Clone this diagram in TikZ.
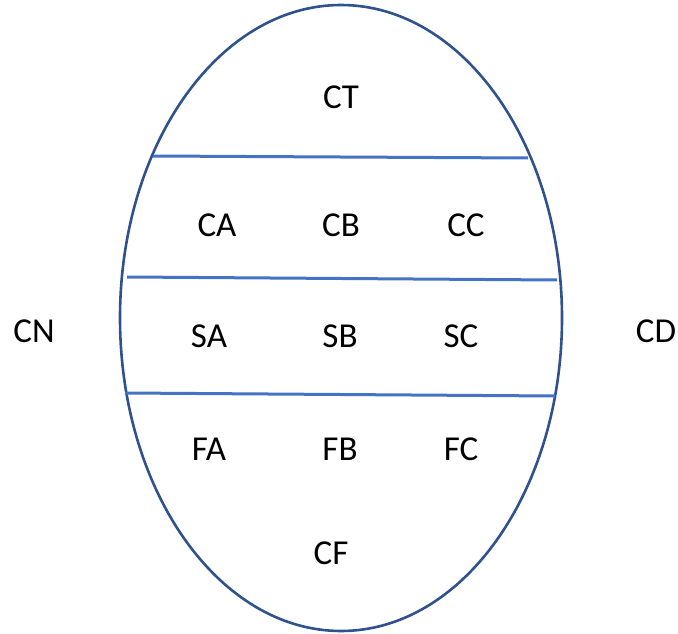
\documentclass[tikz,border=0pt]{standalone}
\usepackage{fontspec}
\setmainfont{Carlito}
\usetikzlibrary{positioning}

\definecolor{ringblue}{HTML}{2F528F}
\definecolor{barblue}{HTML}{4472C4}

\begin{document}
\begin{tikzpicture}[x=1pt, y=-1pt, zone/.style={font=\fontsize{35}{38}\selectfont, inner sep=0pt}, divider/.style={barblue, line width=3pt}]

    \useasboundingbox (0,0) rectangle (678,634);

    \draw[ringblue, line width=2.6pt] (341,318) ellipse [x radius=221, y radius=313];

    \coordinate (t1) at (153,156);  \coordinate (t2) at (528,158);
    \coordinate (m1) at (127,277);  \coordinate (m2) at (557,280);
    \coordinate (b1) at (125,393);  \coordinate (b2) at (555,396);
    \draw[divider] (t1) -- (t2);
    \draw[divider] (m1) -- (m2);
    \draw[divider] (b1) -- (b2);

    \node[zone] (CT) at (341,97) {CT};

    \node[zone] (CB) at (341,225) {CB};
    \node[zone, left=124pt of CB.center, anchor=center] (CA) {CA};
    \node[zone, right=125pt of CB.center, anchor=center] (CC) {CC};

    \node[zone] (SB) at (340,336) {SB};
    \node[zone, left=131pt of SB.center, anchor=center] (SA) {SA};
    \node[zone, right=121pt of SB.center, anchor=center] (SC) {SC};

    \node[zone] (FB) at (340,449) {FB};
    \node[zone, left=131pt of FB.center, anchor=center] (FA) {FA};
    \node[zone, right=121pt of FB.center, anchor=center] (FC) {FC};

    \node[zone] (CF) at (331,553) {CF};

    \node[zone] (CN) at (34,331) {CN};
    \node[zone] (CD) at (656,331) {CD};

\end{tikzpicture}
\end{document}
